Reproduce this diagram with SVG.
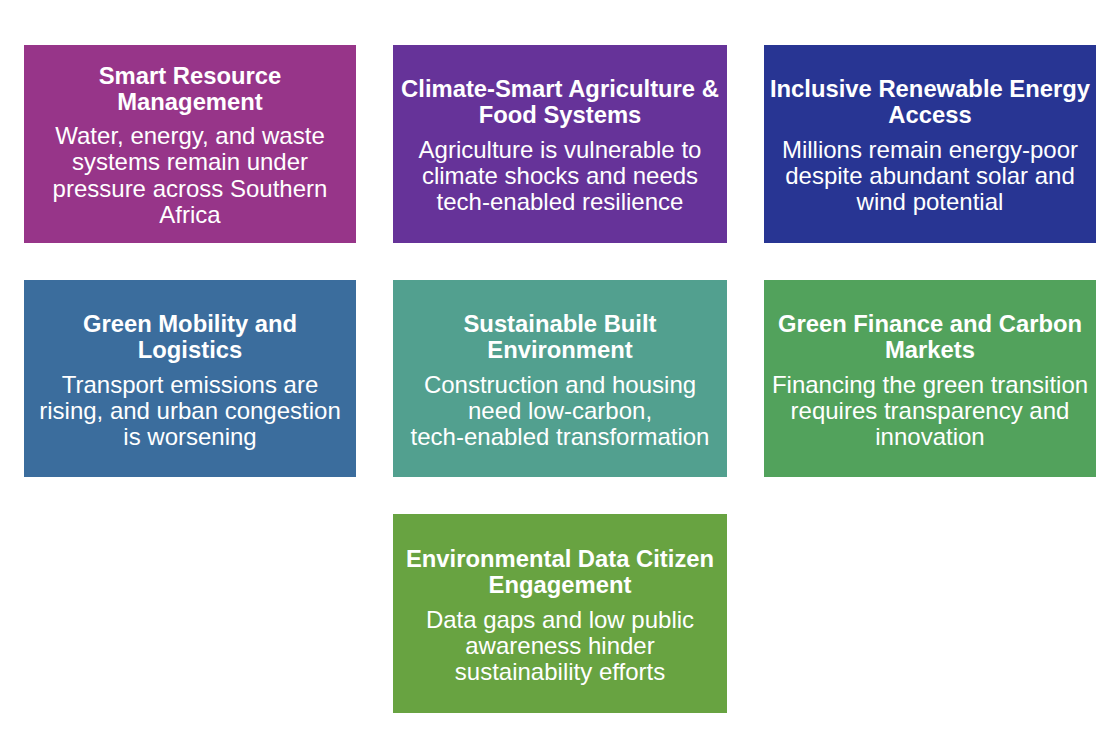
<svg xmlns="http://www.w3.org/2000/svg" width="1113" height="736" viewBox="0 0 1113 736">
<style>
.t{font-family:"Liberation Sans",Arial,sans-serif;font-weight:bold;font-size:23.8px;fill:#ffffff;text-anchor:middle}
.b{font-family:"Liberation Sans",Arial,sans-serif;font-size:24px;fill:#ffffff;text-anchor:middle}
</style>
<rect width="1113" height="736" fill="#ffffff"/>
<g id="connectors"></g>
<g id="n1">
<rect x="24" y="45" width="332" height="198" fill="#973589"/>
<text class="t" x="190" y="84">Smart Resource</text>
<text class="t" x="190" y="110">Management</text>
<text class="b" x="190" y="144">Water, energy, and waste</text>
<text class="b" x="190" y="170">systems remain under</text>
<text class="b" x="190" y="196.5">pressure across Southern</text>
<text class="b" x="190" y="223">Africa</text>
</g>
<g id="n2">
<rect x="393" y="45" width="334" height="198" fill="#663399"/>
<text class="t" x="560" y="97">Climate-Smart Agriculture &amp;</text>
<text class="t" x="560" y="123">Food Systems</text>
<text class="b" x="560" y="158">Agriculture is vulnerable to</text>
<text class="b" x="560" y="184">climate shocks and needs</text>
<text class="b" x="560" y="210">tech-enabled resilience</text>
</g>
<g id="n3">
<rect x="764" y="45" width="332" height="198" fill="#283593"/>
<text class="t" x="930" y="97">Inclusive Renewable Energy</text>
<text class="t" x="930" y="123">Access</text>
<text class="b" x="930" y="158">Millions remain energy-poor</text>
<text class="b" x="930" y="184">despite abundant solar and</text>
<text class="b" x="930" y="210">wind potential</text>
</g>
<g id="n4">
<rect x="24" y="280" width="332" height="197" fill="#3B6D9D"/>
<text class="t" x="190" y="332">Green Mobility and</text>
<text class="t" x="190" y="358">Logistics</text>
<text class="b" x="190" y="393">Transport emissions are</text>
<text class="b" x="190" y="419">rising, and urban congestion</text>
<text class="b" x="190" y="445">is worsening</text>
</g>
<g id="n5">
<rect x="393" y="280" width="334" height="197" fill="#52A08F"/>
<text class="t" x="560" y="332">Sustainable Built</text>
<text class="t" x="560" y="358">Environment</text>
<text class="b" x="560" y="393">Construction and housing</text>
<text class="b" x="560" y="419">need low-carbon,</text>
<text class="b" x="560" y="445">tech-enabled transformation</text>
</g>
<g id="n6">
<rect x="764" y="280" width="332" height="197" fill="#52A25C"/>
<text class="t" x="930" y="332">Green Finance and Carbon</text>
<text class="t" x="930" y="358">Markets</text>
<text class="b" x="930" y="393">Financing the green transition</text>
<text class="b" x="930" y="419">requires transparency and</text>
<text class="b" x="930" y="445">innovation</text>
</g>
<g id="n7">
<rect x="393" y="514" width="334" height="199" fill="#68A341"/>
<text class="t" x="560" y="567">Environmental Data Citizen</text>
<text class="t" x="560" y="593">Engagement</text>
<text class="b" x="560" y="628">Data gaps and low public</text>
<text class="b" x="560" y="654">awareness hinder</text>
<text class="b" x="560" y="680">sustainability efforts</text>
</g>
</svg>
